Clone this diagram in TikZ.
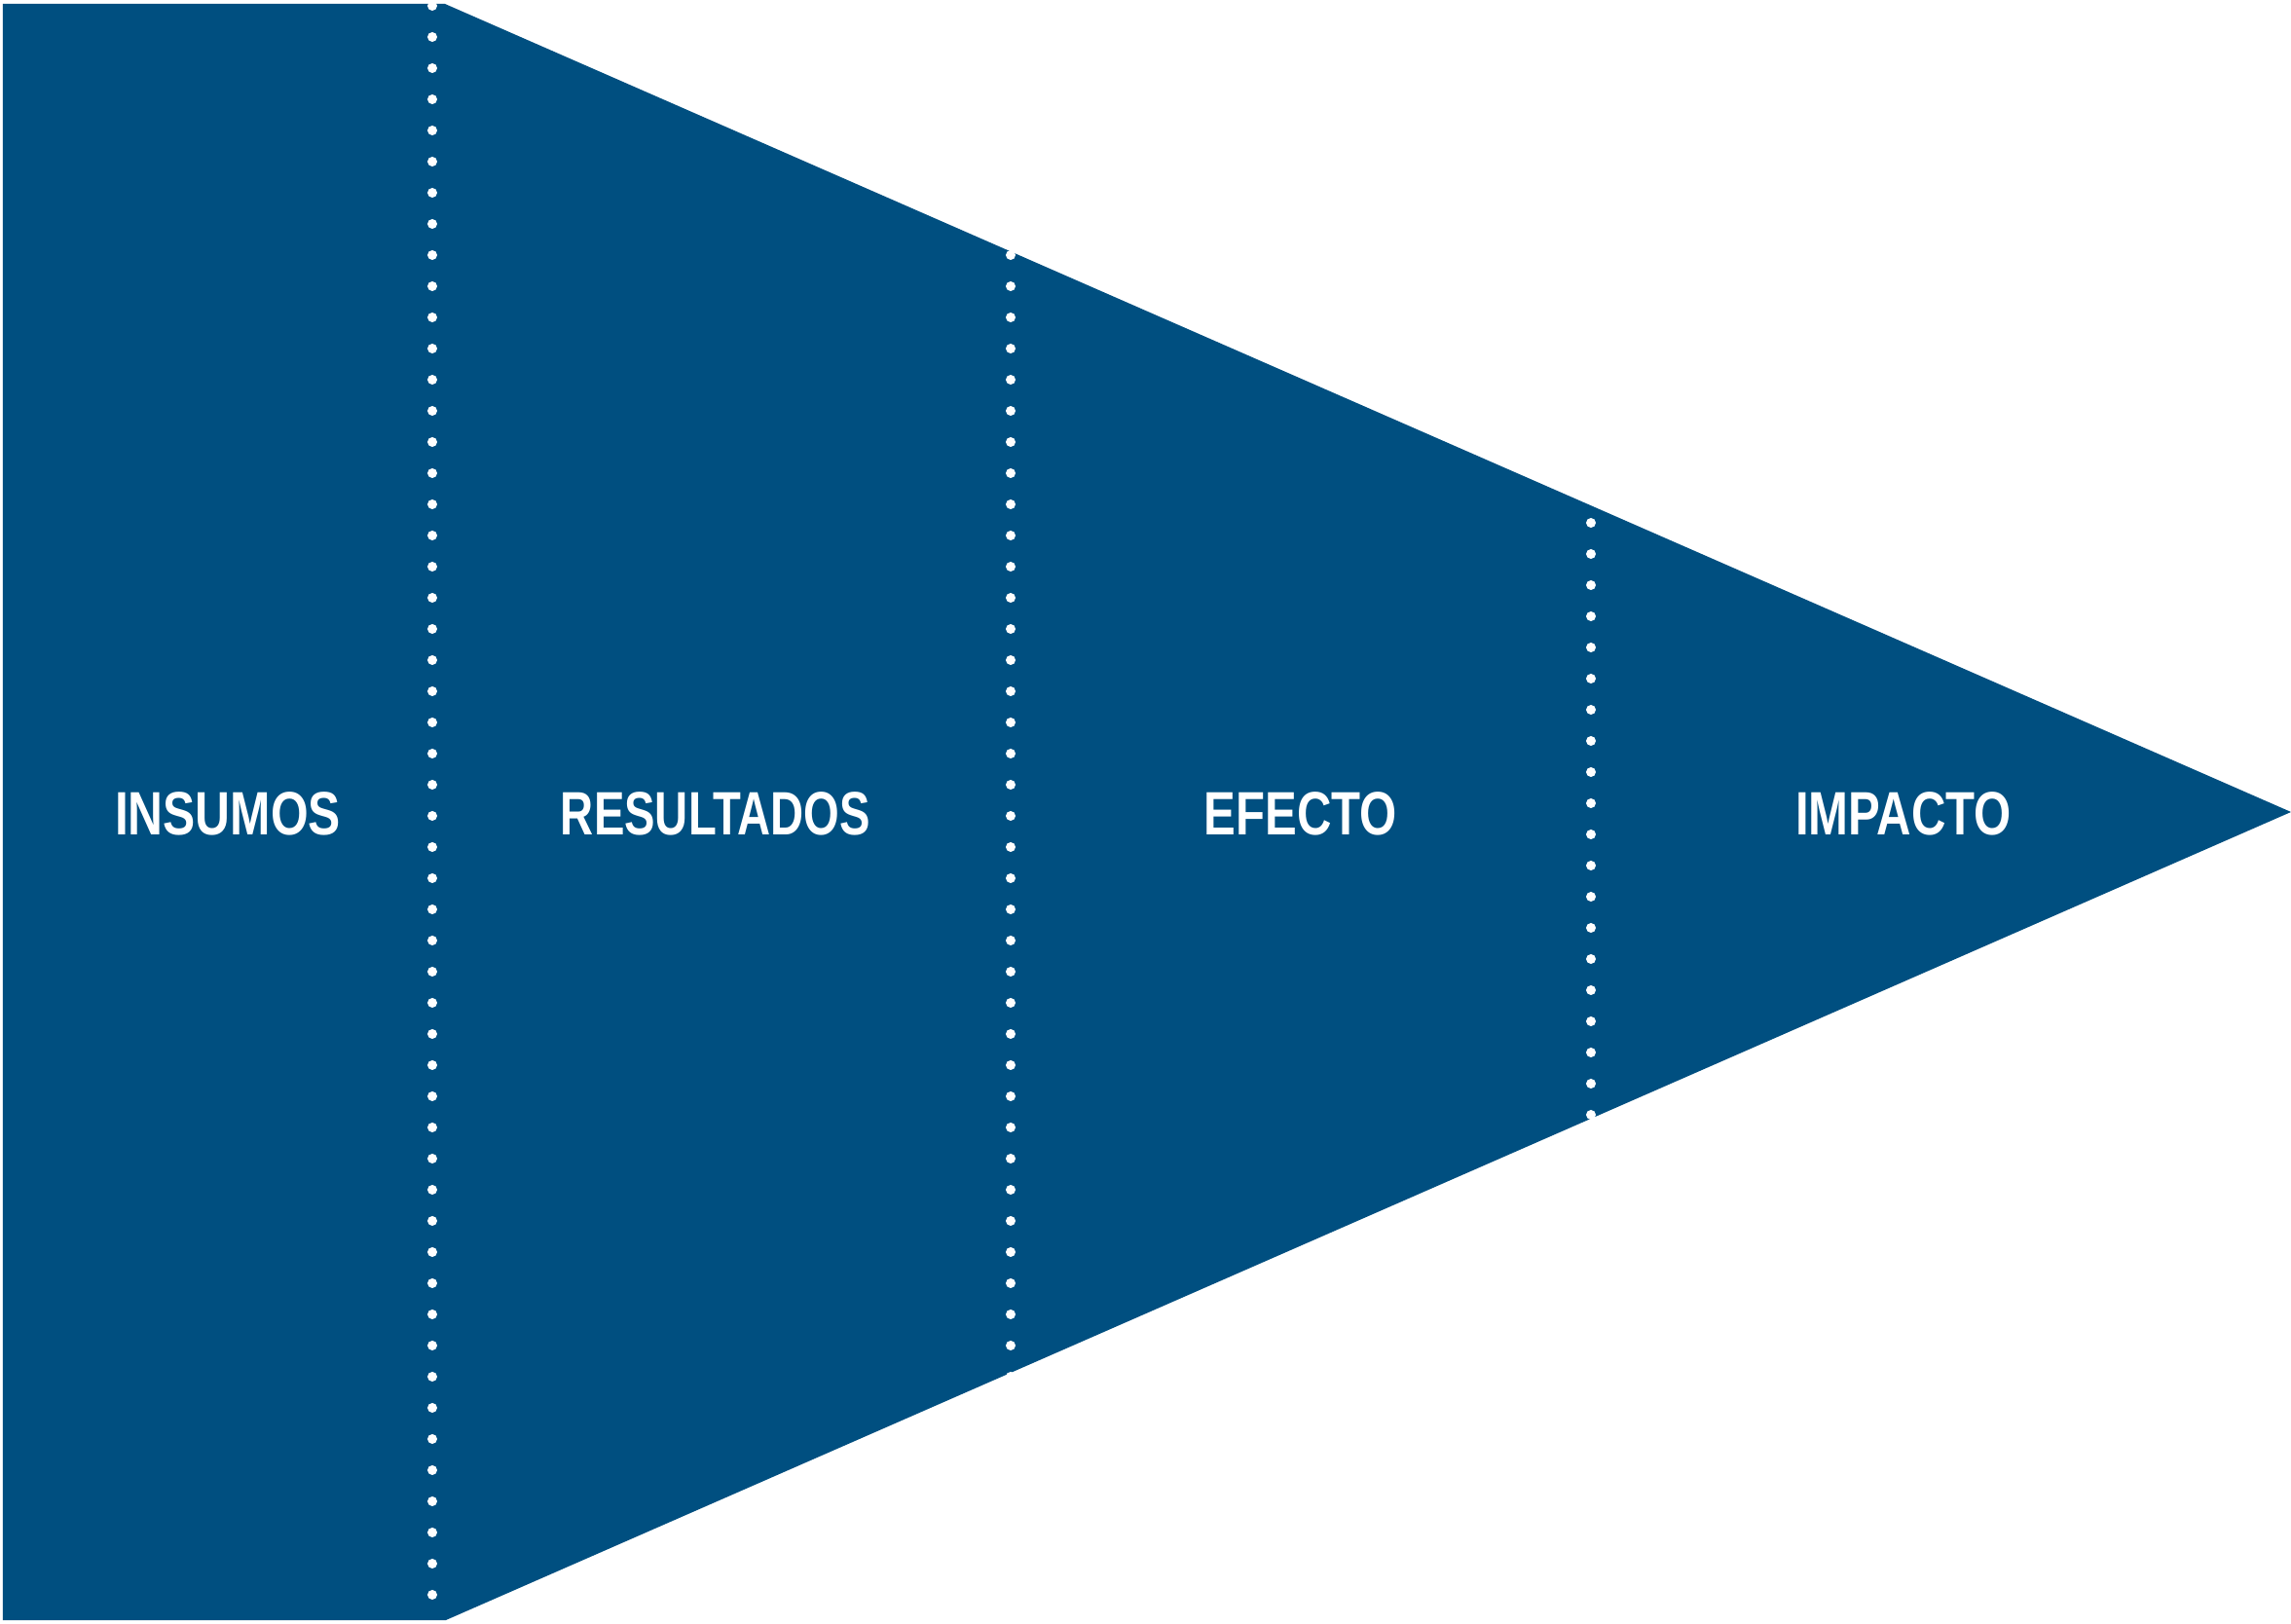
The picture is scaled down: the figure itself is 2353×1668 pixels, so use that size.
\documentclass[tikz,border=0pt]{standalone}
\usepackage{fontspec}
\setmainfont{Liberation Sans}
\definecolor{stageblue}{RGB}{0,79,128}
\newcommand{\narrowtext}[2][0.78]{\scalebox{#1}[1]{#2}}
\begin{document}
\begin{tikzpicture}[x=0.1mm, y=-0.1mm, line join=miter,
    stage/.style={anchor=base, text=white, inner sep=0pt,
                  font=\fontsize{17.9pt}{20pt}\selectfont\bfseries},
    dotline/.style={white, line width=1mm, line cap=round,
                    dash pattern=on 0pt off 3.2mm}]
  \useasboundingbox (0,0) rectangle (2353,1668);

  % outline of the funnel (pixel units, y downwards)
  \coordinate (tl)  at (3,    4   );
  \coordinate (tr)  at (457,  4   );
  \coordinate (tip) at (2353, 834 );
  \coordinate (br)  at (458,  1664);
  \coordinate (bl)  at (3,    1664);
  \fill[stageblue] (tl) -- (tr) -- (tip) -- (br) -- (bl) -- cycle;

  % dotted separators
  \draw[dotline] (444,6)    -- (444,1640);
  \draw[dotline] (1038,262) -- (1038,1416);
  \draw[dotline] (1634,537) -- (1634,1147);

  % stage labels
  \node[stage] (insumos)    at (234,858)  {\narrowtext[0.79]{INSUMOS}};
  \node[stage] (resultados) at (735,858)  {\narrowtext[0.75]{RESULTADOS}};
  \node[stage] (efecto)     at (1336,858) {\narrowtext{EFECTO}};
  \node[stage] (impacto)    at (1955,858) {\narrowtext{IMPACTO}};
\end{tikzpicture}
\end{document}
